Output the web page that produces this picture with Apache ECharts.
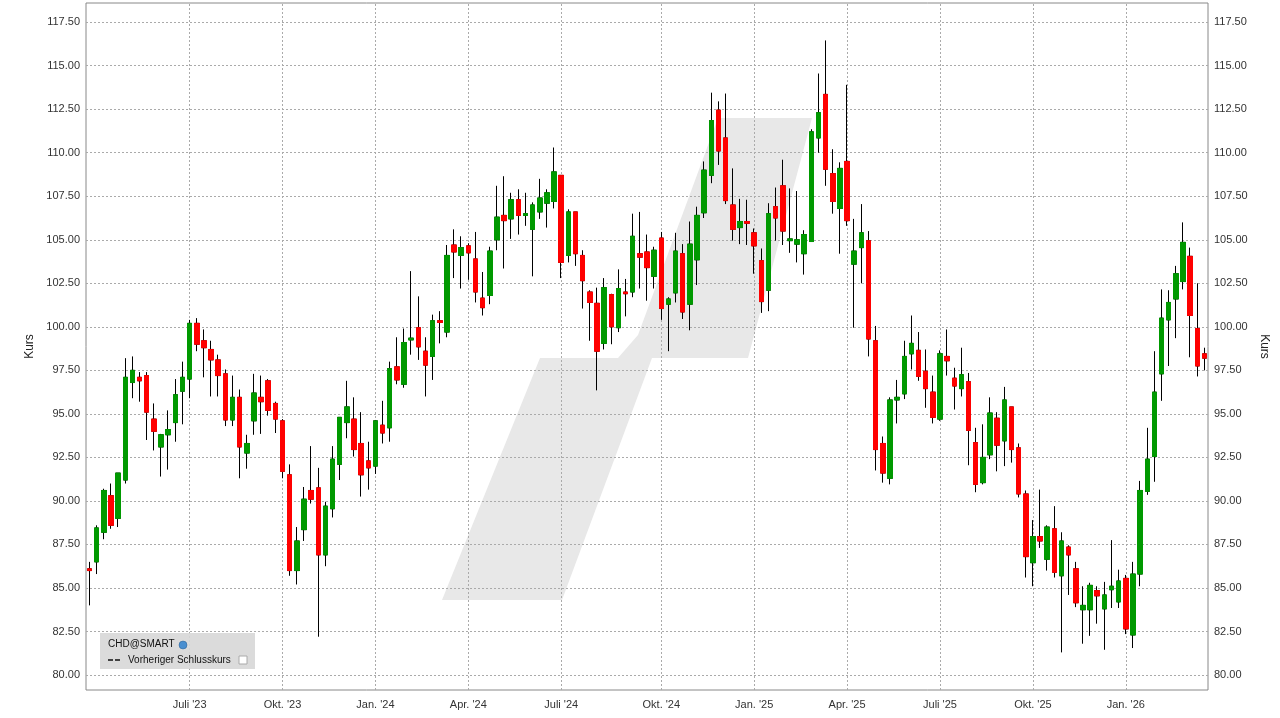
<!DOCTYPE html>
<html><head><meta charset="utf-8">
<script src="https://cdn.jsdelivr.net/npm/echarts@6/dist/echarts.min.js"></script>
<style>html,body{margin:0;padding:0;background:#fff}#c{width:1280px;height:718px}</style>
</head><body><div id="c"></div>
<script>
const startWeek = '2023-03-27';
const opens  = [86.1,86.5,88.2,90.3,89.0,91.2,96.8,97.1,97.2,94.7,93.1,93.8,94.5,96.3,97.0,100.2,99.2,98.7,98.1,97.3,94.65,95.95,92.75,94.6,95.95,96.9,95.6,94.6,91.5,86.0,88.35,90.6,90.75,86.9,89.55,92.1,94.5,94.7,93.3,92.3,92.0,94.35,94.2,97.7,96.7,99.25,99.95,98.6,98.3,100.35,99.7,104.7,104.1,104.65,103.9,101.65,101.8,105.0,106.4,106.2,107.3,106.4,105.6,106.6,107.1,107.2,108.7,104.1,106.6,104.1,102.0,101.35,99.05,101.85,99.95,102.0,102.0,104.2,104.3,102.9,105.1,101.3,101.95,104.2,101.3,103.85,106.55,108.7,112.45,110.85,107.0,105.7,106.05,105.4,103.8,102.1,106.9,108.1,104.95,104.75,104.2,104.9,110.85,113.35,108.8,106.8,109.5,103.6,104.55,104.95,99.2,93.3,91.3,95.8,96.15,98.45,98.65,97.45,96.25,94.7,98.3,97.05,96.45,96.85,93.35,91.05,92.65,94.75,93.45,95.4,93.05,90.4,86.45,87.95,86.65,88.4,85.7,87.35,86.1,83.75,83.75,84.85,83.8,84.9,84.2,85.55,82.3,85.8,90.55,92.55,97.3,100.4,101.6,102.6,104.05,99.9,98.45];
const closes = [86.0,88.45,90.6,88.6,91.6,97.1,97.5,96.9,95.1,94.0,93.8,94.1,96.1,97.1,100.2,99.0,98.8,98.1,97.2,94.65,95.95,93.1,93.3,96.2,95.7,95.2,94.7,91.7,86.0,87.7,90.1,90.1,86.9,89.7,92.4,94.8,95.4,92.95,91.5,91.9,94.6,93.9,97.6,96.95,99.1,99.35,98.85,97.8,100.35,100.25,104.1,104.3,104.55,104.25,102.0,101.1,104.35,106.3,106.1,107.3,106.4,106.5,107.0,107.4,107.7,108.9,103.7,106.6,104.2,102.65,101.4,98.6,102.25,100.0,102.2,101.9,105.2,104.0,103.4,104.4,101.05,101.6,104.35,100.85,104.75,106.4,109.0,111.85,110.1,107.25,105.6,106.05,105.95,104.65,101.45,106.5,106.25,105.5,105.05,105.0,105.3,111.2,112.3,109.05,107.2,109.1,106.1,104.35,105.4,99.3,92.95,91.6,95.8,95.95,98.3,99.05,97.15,96.45,94.8,98.45,98.05,96.6,97.25,94.05,90.95,92.5,95.05,93.2,95.8,92.95,90.4,86.8,87.95,87.7,88.5,85.9,87.7,86.9,84.15,84.0,85.15,84.55,84.6,85.1,85.4,82.65,85.8,90.6,92.4,96.25,100.5,101.4,103.05,104.85,100.65,97.75,98.2];
const lows   = [84.0,85.8,87.8,88.4,88.5,91.0,95.9,95.7,93.5,92.9,91.4,91.8,93.4,94.4,95.9,98.6,97.1,96.0,96.0,94.3,94.3,91.3,91.85,93.8,93.85,94.9,93.9,91.3,85.7,85.2,87.7,89.85,82.2,86.25,89.05,91.2,93.6,92.55,90.25,90.65,91.55,93.3,93.4,96.7,96.5,98.4,98.1,96.0,96.95,99.05,99.4,102.8,102.2,102.7,101.4,100.65,101.3,104.4,103.35,105.05,105.3,105.8,102.9,106.2,105.7,106.8,102.8,103.7,103.5,101.05,99.2,96.35,98.7,99.0,99.7,100.6,101.7,102.2,101.5,102.2,100.4,98.6,101.4,100.45,99.8,102.4,106.25,108.25,109.3,107.05,104.95,104.75,104.7,103.05,100.8,100.9,104.95,104.7,104.25,103.7,103.0,104.9,110.0,108.1,106.5,104.2,105.8,99.95,102.5,98.3,91.75,91.05,90.95,94.45,95.85,97.55,96.9,95.35,94.45,94.6,97.2,95.25,96.0,92.05,90.5,90.95,92.4,91.7,92.0,92.2,90.2,85.6,85.1,87.3,86.0,85.6,81.3,84.6,83.9,81.8,82.25,82.95,81.45,83.85,83.85,82.35,81.55,85.1,90.35,91.1,95.75,97.75,99.35,102.15,98.25,97.15,97.5];
const highs  = [86.5,88.6,90.7,91.0,91.6,98.2,98.3,97.4,97.4,95.6,93.85,95.2,97.0,98.0,100.4,100.5,99.85,99.2,98.4,97.55,97.2,96.4,93.8,97.3,97.2,97.0,95.7,94.7,92.1,88.5,90.8,93.15,91.9,89.95,93.15,94.8,96.9,95.95,95.1,93.4,94.65,95.75,98.0,99.4,99.9,103.2,101.75,99.4,100.7,100.9,104.7,105.6,105.2,104.8,105.45,103.15,104.6,108.1,108.65,107.7,107.9,107.7,107.15,108.5,107.9,110.3,108.7,106.75,106.6,104.4,102.1,102.25,102.8,101.9,103.3,102.75,106.5,106.6,105.3,104.6,105.45,101.7,105.4,104.75,106.05,106.9,109.5,113.45,112.95,113.4,109.1,107.35,107.3,105.65,104.5,107.1,108.0,109.6,107.95,107.8,105.55,111.35,114.55,116.45,110.2,109.45,113.9,106.2,107.05,105.5,100.05,93.7,95.95,96.95,99.2,100.65,99.7,98.7,97.2,98.65,99.85,97.65,98.8,97.35,94.2,94.4,95.95,95.1,96.55,95.4,93.3,90.6,88.9,90.65,88.6,89.7,88.2,87.45,86.5,85.1,85.3,85.1,85.35,87.75,86.05,85.75,86.5,91.15,94.2,98.6,102.15,102.1,103.5,106.0,104.55,102.5,98.8];
const yTicks = [80,82.5,85,87.5,90,92.5,95,97.5,100,102.5,105,107.5,110,112.5,115,117.5];
const monthNames = ['Jan.','Feb.','März','Apr.','Mai','Juni','Juli','Aug.','Sep.','Okt.','Nov.','Dez.'];

const dates = [];
const d0 = new Date(startWeek + 'T12:00:00Z');
for (let i = 0; i < opens.length; i++) {
  const d = new Date(d0.getTime() + i * 7 * 86400000);
  dates.push(d.toISOString().slice(0, 10));
}
const quarterIdx = new Set();
for (let i = 5; i < dates.length; i++) {
  const m = +dates[i].slice(5, 7) - 1, pm = +dates[i - 1].slice(5, 7) - 1;
  if (m !== pm && m % 3 === 0) quarterIdx.add(i);
}
const fmtDate = v => monthNames[+v.slice(5, 7) - 1] + " '" + v.slice(2, 4);

const wickData = opens.map((o, i) => [o, closes[i], lows[i], highs[i]]);
const bodyData = opens.map((o, i) => [o, closes[i], Math.min(o, closes[i]), Math.max(o, closes[i])]);

const gridLines = yTicks.map(v => ({ yAxis: v }))
  .concat([...quarterIdx].map(i => ({ xAxis: dates[i] })));

const font = 'Liberation Sans, Arial, sans-serif';
const yMin = 79.14, yMax = 118.6;
const yAx = (pos) => ({
  type: 'value', position: pos, min: yMin, max: yMax,
  name: 'Kurs', nameLocation: 'middle', nameGap: 50,
  nameRotate: pos === 'left' ? 90 : -90,
  nameTextStyle: { fontFamily: font, fontSize: 12, color: '#222' },
  axisLine: { show: false }, splitLine: { show: false },
  axisTick: { show: false },
  axisLabel: { customValues: yTicks, fontFamily: font, fontSize: 11, color: '#333', margin: 6,
    formatter: v => v.toFixed(2) }
});

const chart = echarts.init(document.getElementById('c'), null, { renderer: 'canvas' });
chart.setOption({
  animation: false,
  backgroundColor: '#fff',
  grid: { left: 86, right: 72, top: 3, bottom: 28, show: true, borderColor: '#888', borderWidth: 1, backgroundColor: 'transparent' },
  xAxis: {
    type: 'category', data: dates, boundaryGap: true,
    axisLine: { show: false }, axisTick: { show: false }, splitLine: { show: false },
    axisLabel: { interval: (i) => quarterIdx.has(i), formatter: fmtDate, fontFamily: font, fontSize: 11, color: '#333', margin: 9 }
  },
  yAxis: [yAx('left'), yAx('right')],
  graphic: [
    { type: 'polygon', z: 0, silent: true,
      shape: { points: [[442,600],[562,600],[652,358],[748,358],[812,118],[718,118],[638,335],[618,358],[540,358]] },
      style: { fill: '#e8e8e8' } },
    { type: 'rect', z: 10, shape: { x: 100, y: 633, width: 155, height: 36 }, style: { fill: 'rgba(215,215,215,0.9)' } },
    { type: 'text', z: 11, x: 108, y: 639, style: { text: 'CHD@SMART', font: '10px ' + font, fill: '#111' } },
    { type: 'circle', z: 11, shape: { cx: 183, cy: 645, r: 4 }, style: { fill: '#4a8fd0', stroke: '#2a5f90', lineWidth: 0.5 } },
    { type: 'line', z: 11, shape: { x1: 108, y1: 660, x2: 122, y2: 660 }, style: { stroke: '#111', lineWidth: 1.5, lineDash: [5, 2] } },
    { type: 'text', z: 11, x: 128, y: 655, style: { text: 'Vorheriger Schlusskurs', font: '10px ' + font, fill: '#111' } },
    { type: 'rect', z: 11, shape: { x: 239, y: 656, width: 8, height: 8 }, style: { fill: '#fff', stroke: '#aaa' } }
  ],
  series: [
    { type: 'line', z: 1, data: [], silent: true,
      markLine: { z: 1, silent: true, symbol: 'none', label: { show: false }, animation: false,
        lineStyle: { color: '#aaa', type: [2, 2], width: 1 }, data: gridLines } },
    { type: 'candlestick', z: 3, data: wickData, barWidth: 5, silent: true,
      itemStyle: { color: '#009900', color0: '#ff0000', borderColor: '#000', borderColor0: '#000', borderWidth: 1 } },
    { type: 'candlestick', z: 4, data: bodyData, barWidth: 5, silent: true,
      itemStyle: { color: '#009900', color0: '#ff0000', borderColor: '#009900', borderColor0: '#ff0000', borderWidth: 1 } }
  ]
});
</script></body></html>
